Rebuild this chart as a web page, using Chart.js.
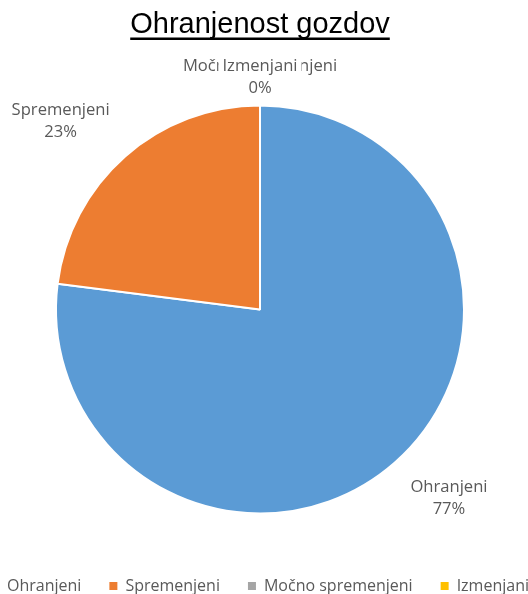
<!DOCTYPE html>
<html>
<head>
<meta charset="utf-8">
<title>Ohranjenost gozdov</title>
<script src="https://cdn.jsdelivr.net/npm/chart.js@4.4.1/dist/chart.umd.min.js"></script>
<style>
  html, body { margin: 0; padding: 0; background: #fff; width: 528px; height: 594px; overflow: hidden; }
  #pie { position: absolute; left: -40px; top: 0; }
</style>
</head>
<body>
<canvas id="pie" width="600" height="604"></canvas>
<script>
const categories = ['Ohranjeni', 'Spremenjeni', 'Močno spremenjeni', 'Izmenjani'];
const shares = [77, 23, 0, 0];
const sliceColors = ['#5B9BD5', '#ED7D31', '#A5A5A5', '#FFC000'];

const labelFont = '"Open Sans", "Noto Sans", sans-serif';
const textGrey = '#595959';

// category name + percentage, placed just outside each slice
const outsideLabels = {
  id: 'outsideLabels',
  afterDatasetsDraw(chart) {
    const ctx = chart.ctx;
    const meta = chart.getDatasetMeta(0);
    const total = shares.reduce((a, b) => a + b, 0);
    const lineH = 22;
    ctx.save();
    ctx.font = '16.6px ' + labelFont;
    ctx.textAlign = 'center';
    ctx.textBaseline = 'middle';
    meta.data.forEach((arc, i) => {
      const p = arc.getProps(['x', 'y', 'startAngle', 'endAngle', 'outerRadius'], true);
      const mid = (p.startAngle + p.endAngle) / 2;
      const cos = Math.cos(mid), sin = Math.sin(mid);
      // diagonal labels sit a bit further out than ones straight above/below
      const gap = 6 + 12 * Math.abs(Math.sin(2 * mid));
      const ax = p.x + cos * (p.outerRadius + gap);
      const ay = p.y + sin * (p.outerRadius + gap);
      const lines = [categories[i], Math.round(shares[i] / total * 100) + '%'];
      const w = Math.max(...lines.map(t => ctx.measureText(t).width)) + 8;
      const h = lines.length * lineH;
      const sx = Math.max(-1, Math.min(1, cos * 1.5));
      const sy = Math.max(-1, Math.min(1, sin * 1.5));
      const cx = ax + sx * w / 2;
      const cy = ay + sy * h / 2;
      ctx.fillStyle = '#fff';
      ctx.fillRect(cx - w / 2, cy - h / 2, w, h);
      ctx.fillStyle = textGrey;
      lines.forEach((t, k) => ctx.fillText(t, cx, cy - h / 2 + lineH / 2 + k * lineH));
    });
    ctx.restore();
  }
};

// underline below the title text
const titleUnderline = {
  id: 'titleUnderline',
  afterDraw(chart) {
    const tb = chart.titleBlock;
    const opts = tb.options;
    const size = opts.font.size;
    const ctx = chart.ctx;
    ctx.save();
    ctx.font = size + 'px ' + opts.font.family;
    const w = ctx.measureText(opts.text).width;
    const cx = (tb.left + tb.right) / 2;
    const y = tb.top + opts.padding.top + size * opts.font.lineHeight / 2 + size * 0.46;
    ctx.strokeStyle = opts.color;
    ctx.lineWidth = 2.5;
    ctx.beginPath();
    ctx.moveTo(cx - w / 2, y);
    ctx.lineTo(cx + w / 2, y);
    ctx.stroke();
    ctx.restore();
  }
};

const pieConfig = {
  type: 'pie',
  data: {
    labels: categories,
    datasets: [
      {
        data: shares,
        backgroundColor: sliceColors,
        borderColor: '#fff',
        borderWidth: 2,
        radius: 204,
      },
    ],
  },
  options: {
    responsive: false,
    animation: false,
    events: [],
    layout: { padding: 0 },
    plugins: {
      title: {
        display: true,
        text: 'Ohranjenost gozdov',
        color: '#000',
        font: { family: '"Liberation Sans", Arial, sans-serif', size: 29, weight: 'normal', lineHeight: 1.2 },
        padding: { top: 8, bottom: 26 },
      },
      legend: {
        position: 'bottom',
        labels: {
          boxWidth: 8,
          boxHeight: 8,
          padding: 28,
          color: textGrey,
          font: { family: labelFont, size: 16 },
          generateLabels(chart) {
            return Chart.overrides.pie.plugins.legend.labels.generateLabels(chart)
              .map(item => Object.assign(item, { lineWidth: 0, hidden: false }));
          },
        },
      },
      tooltip: { enabled: false },
    },
  },
  plugins: [outsideLabels, titleUnderline],
};

const pieCtx = document.getElementById('pie');
window.myPie = new Chart(pieCtx, pieConfig);
</script>
</body>
</html>
